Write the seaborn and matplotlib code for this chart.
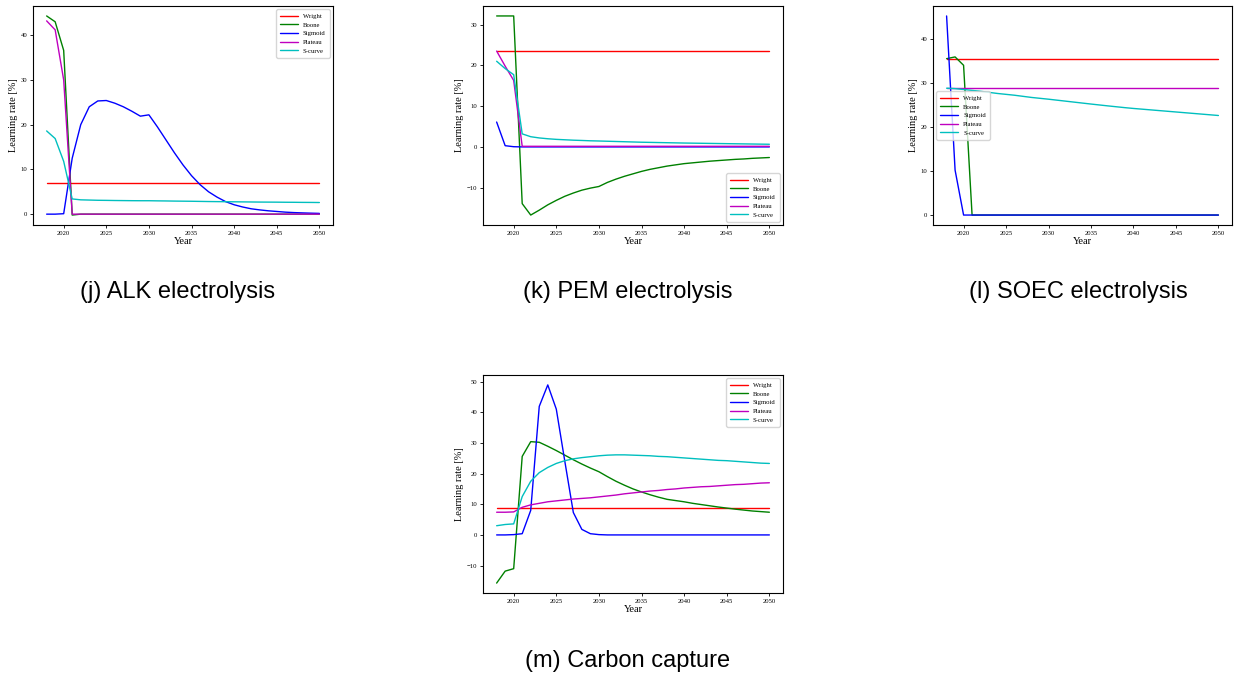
import numpy as np
import pandas as pd
import matplotlib
matplotlib.use("Agg")
import matplotlib.pyplot as plt
import seaborn as sns

years = list(range(2018, 2051))
methods = ["Wright", "Boone", "Sigmoid", "Plateau", "S-curve"]
colors = ["#ff0000", "#008000", "#0000ff", "#bf00bf", "#00bfbf"]

# (j) ALK electrolysis
alk_wright = [7.0] * 33
alk_boone = [44.3, 43.0, 36.6, -0.2] + [0.0] * 29
alk_sigmoid = [0.0, 0.0, 0.1, 12.5, 20.0, 24.0, 25.3, 25.4, 24.8, 24.0, 23.0, 21.9, 22.2,
               19.5, 16.6, 13.7, 11.0, 8.6, 6.6, 5.0, 3.8, 2.8, 2.1, 1.6, 1.2, 0.95, 0.75,
               0.6, 0.45, 0.35, 0.28, 0.22, 0.17]
alk_plateau = [43.2, 41.2, 30.0] + [0.0] * 30
alk_scurve = [18.6, 16.9, 11.8, 3.4, 3.2, 3.15, 3.1, 3.08, 3.05, 3.03, 3.01, 3.0, 3.0,
              2.97, 2.95, 2.92, 2.9, 2.88, 2.85, 2.82, 2.8, 2.78, 2.76, 2.74, 2.72, 2.7,
              2.69, 2.68, 2.66, 2.65, 2.63, 2.62, 2.6]

# (k) PEM electrolysis
pem_wright = [23.4] * 33
pem_boone = [32.1, 32.1, 32.1, -13.9, -16.7, -15.5, -14.2, -13.1, -12.1, -11.3, -10.6,
             -10.1, -9.7, -8.7, -7.9, -7.2, -6.6, -6.0, -5.5, -5.1, -4.7, -4.4, -4.1,
             -3.9, -3.7, -3.5, -3.35, -3.2, -3.05, -2.95, -2.8, -2.7, -2.6]
pem_sigmoid = [6.1, 0.3, 0.05] + [0.0] * 30
pem_plateau = [23.5, 19.8, 16.3] + [0.15] * 30
pem_scurve = [21.0, 19.2, 17.7, 3.2, 2.5, 2.2, 2.0, 1.85, 1.75, 1.65, 1.58, 1.5, 1.45,
              1.39, 1.33, 1.27, 1.21, 1.15, 1.11, 1.07, 1.03, 0.99, 0.95, 0.92, 0.89,
              0.86, 0.83, 0.8, 0.77, 0.74, 0.71, 0.68, 0.65]

# (l) SOEC electrolysis
soec_wright = [35.5] * 33
soec_boone = [35.5, 35.9, 34.0] + [0.0] * 30
soec_sigmoid = [45.2, 10.2] + [0.0] * 31
soec_plateau = [28.8] * 33
soec_scurve = [28.8, 28.7, 28.5, 28.3, 28.1, 27.85, 27.6, 27.4, 27.2, 26.95, 26.7, 26.5,
               26.3, 26.08, 25.86, 25.64, 25.42, 25.2, 24.99, 24.78, 24.58, 24.38, 24.2,
               24.04, 23.88, 23.72, 23.56, 23.4, 23.24, 23.08, 22.92, 22.76, 22.6]

# (m) Carbon capture
cc_wright = [8.8] * 33
cc_boone = [-15.7, -11.8, -11.0, 25.6, 30.4, 30.2, 28.9, 27.5, 26.0, 24.5, 23.1, 21.8,
            20.6, 19.0, 17.5, 16.2, 15.0, 14.0, 13.1, 12.3, 11.6, 11.2, 10.8, 10.3, 9.9,
            9.5, 9.1, 8.75, 8.4, 8.1, 7.8, 7.6, 7.4]
cc_sigmoid = [0.0, 0.0, 0.1, 0.4, 8.0, 41.9, 48.9, 41.0, 24.0, 7.3, 1.8, 0.4, 0.1] + [0.0] * 20
cc_plateau = [7.4, 7.4, 7.5, 9.0, 9.8, 10.3, 10.8, 11.1, 11.4, 11.7, 11.9, 12.1, 12.4,
              12.7, 13.0, 13.4, 13.7, 14.0, 14.3, 14.5, 14.8, 15.0, 15.3, 15.5, 15.7,
              15.8, 16.0, 16.2, 16.4, 16.5, 16.7, 16.9, 17.0]
cc_scurve = [3.0, 3.4, 3.6, 12.5, 17.5, 20.3, 22.0, 23.3, 24.2, 24.8, 25.2, 25.5, 25.8,
             26.0, 26.1, 26.1, 26.0, 25.9, 25.8, 25.6, 25.5, 25.3, 25.1, 24.9, 24.7,
             24.5, 24.3, 24.2, 24.0, 23.8, 23.6, 23.4, 23.3]

captions = ["(j) ALK electrolysis", "(k) PEM electrolysis",
            "(l) SOEC electrolysis", "(m) Carbon capture"]

panels = [
    (alk_wright, alk_boone, alk_sigmoid, alk_plateau, alk_scurve),
    (pem_wright, pem_boone, pem_sigmoid, pem_plateau, pem_scurve),
    (soec_wright, soec_boone, soec_sigmoid, soec_plateau, soec_scurve),
    (cc_wright, cc_boone, cc_sigmoid, cc_plateau, cc_scurve),
]
legend_locs = ["upper right", "lower right", "center left", "upper right"]

sns.set_style("ticks")
plt.rcParams["font.family"] = ["Liberation Serif", "DejaVu Serif"]
plt.rcParams["axes.edgecolor"] = "black"
plt.rcParams["xtick.color"] = "black"
plt.rcParams["ytick.color"] = "black"
plt.rcParams["text.color"] = "black"
plt.rcParams["axes.labelcolor"] = "black"

W, H = 1234, 677
fig = plt.figure(figsize=(W / 100, H / 100), dpi=100)

# axes boxes in pixels: left, top, right, bottom
boxes = [(33, 6, 333, 225), (483, 6, 783, 225), (933, 6, 1232, 225), (483, 375, 783, 593)]
cap_pos = [(178, 292), (628, 292), (1078, 292), (628, 661)]

for i, (series, box, loc) in enumerate(zip(panels, boxes, legend_locs)):
    l, t, r, b = box
    ax = fig.add_axes([l / W, 1 - b / H, (r - l) / W, (b - t) / H])
    df = pd.DataFrame({
        "Year": years * 5,
        "value": sum([list(s) for s in series], []),
        "method": sum([[m] * len(years) for m in methods], []),
    })
    sns.lineplot(data=df, x="Year", y="value", hue="method", hue_order=methods,
                 palette=colors, linewidth=1.0, ax=ax, legend=True)
    ax.set_xlabel("Year", fontsize=7.5, labelpad=1)
    ax.set_ylabel("Learning rate [%]", fontsize=7.5, labelpad=2)
    ax.set_xticks([2020, 2025, 2030, 2035, 2040, 2045, 2050])
    ax.tick_params(labelsize=4.8, length=2.5, width=0.6, pad=1.5)
    for sp in ax.spines.values():
        sp.set_linewidth(0.8)
        sp.set_color("black")
    leg = ax.legend(loc=loc, fontsize=4.8, frameon=True, handlelength=2.6,
                    borderpad=0.6, labelspacing=0.45)
    for line in leg.get_lines():
        line.set_linewidth(1.0)
    cx, cy = cap_pos[i]
    fig.text(cx / W, 1 - cy / H, captions[i], ha="center", va="center",
             fontsize=17, color="black", family=["Liberation Sans", "DejaVu Sans"])

fig.savefig("out.png", dpi=100)
